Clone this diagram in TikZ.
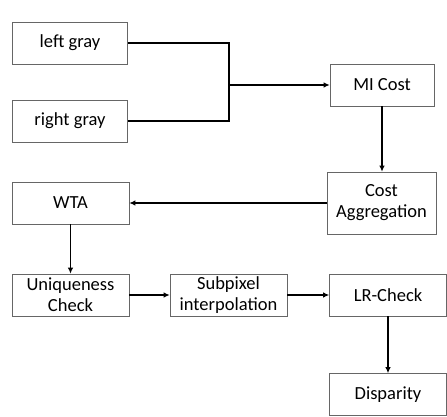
\documentclass[tikz,border=0pt]{standalone}
\usepackage{fontspec}
\setmainfont{Carlito}
\usetikzlibrary{arrows.meta}
\tikzset{
  blok/.style={draw=black!60, line width=0.6pt, minimum width=#1, minimum height=42pt, align=center, inner sep=1pt, font=\fontsize{18.5}{21}\selectfont},
  blok/.default=116pt,
  pijl/.style={line width=1.8pt, -{Latex[length=6pt,width=5.5pt]}}
}
\begin{document}
\begin{tikzpicture}[x=1pt,y=-1pt]
    \useasboundingbox (0,0) rectangle (447,417);
    \node [blok=115pt] (left) at (70,43) {left gray};
    \node [blok=115pt] (right) at (70,121) {right gray};
    \node [blok=104pt] (mi) at (382,85) {MI Cost};
    \node [blok=109pt, minimum height=62pt] (agg) at (381.5,203) {Cost\\Aggregation};
    \node [blok=117pt] (wta) at (70.5,203) {WTA};
    \node [blok=117pt] (uniq) at (70.5,295) {Uniqueness\\Check};
    \node [blok=117pt] (sub) at (228.5,295) {Subpixel\\interpolation};
    \node [blok=117pt] (lr) at (388,295) {LR-Check};
    \node [blok=117pt] (disp) at (388,394.5) {Disparity};
    \coordinate (join) at (229,85);
    \draw [line width=1.8pt] (left.east) -| (join) |- (right.east);
    \draw [pijl] (join) -- (mi.west);
    \draw [pijl] (mi.south) -- (mi.south |- agg.north);
    \draw [pijl] (agg.west) -- (wta.east);
    \draw [pijl] (wta.south) -- (uniq.north);
    \draw [pijl] (uniq.east) -- (sub.west);
    \draw [pijl] (sub.east) -- (lr.west);
    \draw [pijl] (lr.south) -- (disp.north);
  \end{tikzpicture}
\end{document}
